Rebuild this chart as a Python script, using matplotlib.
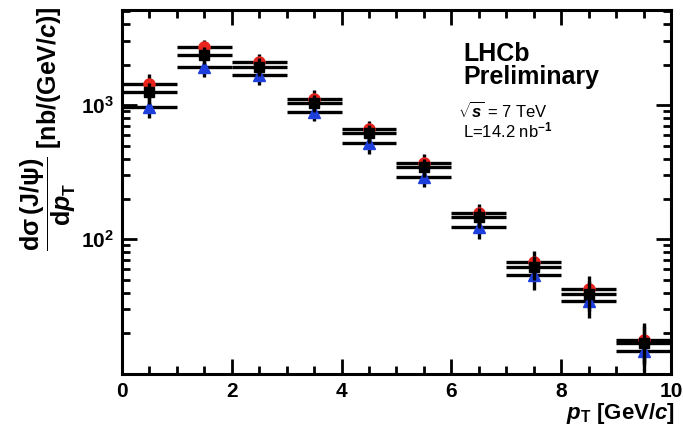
import numpy as np
import matplotlib
matplotlib.use('Agg')
import matplotlib.pyplot as plt
from matplotlib.ticker import FixedLocator, FuncFormatter, NullFormatter, MultipleLocator

plt.rcParams['font.family'] = ['Liberation Sans', 'DejaVu Sans']
plt.rcParams['font.weight'] = 'bold'
plt.rcParams['mathtext.fontset'] = 'custom'
plt.rcParams['mathtext.rm'] = 'Liberation Sans:bold'
plt.rcParams['mathtext.it'] = 'Liberation Sans:bold:italic'
plt.rcParams['mathtext.bf'] = 'Liberation Sans:bold'

# pT bins (GeV/c)
bin_centers = [0.5, 1.5, 2.5, 3.5, 4.5, 5.5, 6.5, 7.5, 8.5, 9.5]
bin_half_width = 0.5

# three measurements of dsigma/dpT [nb/(GeV/c)]
red_vals = [1433, 2717, 2100, 1118, 659, 372, 156, 68.1, 42.7, 17.8]
red_errs = [270, 330, 300, 175, 105, 59, 27, 14, 10.6, 5.9]

black_vals = [1243, 2355, 1935, 1035, 615, 344, 146, 62.5, 39.2, 17.0]
black_errs = [220, 340, 300, 150, 95, 52, 24, 13, 10, 5.5]

blue_vals = [971, 1928, 1665, 892, 524, 293, 124, 54.2, 34.7, 14.8]
blue_errs = [170, 320, 255, 128, 93, 46, 24, 12.3, 8.6, 4.6]

fig = plt.figure(figsize=(6.83, 4.41), dpi=100)
ax = fig.add_axes([0.1786, 0.153, 0.8038, 0.824])

common = dict(xerr=bin_half_width, ecolor='black', elinewidth=2.4, capsize=0, linestyle='none')
ax.errorbar(bin_centers, red_vals, yerr=red_errs, fmt='o', color='#e8251f', ms=8, zorder=3, **common)
ax.errorbar(bin_centers, blue_vals, yerr=blue_errs, fmt='^', color='#1f3fdc', ms=8, zorder=3, **common)
ax.errorbar(bin_centers, black_vals, yerr=black_errs, fmt='s', color='black', ms=6.5, zorder=4, **common)

ax.set_yscale('log')
ax.set_xlim(0, 10)
ax.set_ylim(10, 5100)

ax.xaxis.set_major_locator(MultipleLocator(2))
ax.xaxis.set_minor_locator(MultipleLocator(0.5))
ax.yaxis.set_major_locator(FixedLocator([100, 1000]))
minor_y = [m * 10 ** e for e in (1, 2, 3) for m in range(2, 10) if m * 10 ** e < 5100]
ax.yaxis.set_minor_locator(FixedLocator(minor_y))
ax.yaxis.set_major_formatter(FuncFormatter(lambda v, p: r'$\mathbf{10^{%d}}$' % round(np.log10(v))))
ax.yaxis.set_minor_formatter(NullFormatter())
ax.xaxis.set_major_formatter(FuncFormatter(lambda v, p: '%d' % v))

for s in ax.spines.values():
    s.set_linewidth(2.2)
ax.tick_params(which='both', direction='in', top=True, right=True, width=2.0)
ax.tick_params(which='major', length=11, labelsize=15, pad=6)
ax.tick_params(which='minor', length=6)
for lab in ax.get_xticklabels() + ax.get_yticklabels():
    lab.set_fontweight('bold')

# axis titles
fig.text(675 / 683, 1 - 413 / 441, r'$\mathit{p}_{\mathrm{T}}$ [GeV/$\mathit{c}$]',
         ha='right', va='center', fontsize=16, fontweight='bold')
fig.text(48 / 683, 1 - 6 / 441,
         r'$\dfrac{\mathrm{d\sigma\,(J/\psi)}}{\mathrm{d}\mathit{p}_{\mathrm{T}}}$ [nb/(GeV/$\mathit{c}$)]',
         rotation=90, ha='center', va='top', fontsize=18, fontweight='bold')

# annotations
ax.text(463 / 683, 1 - 54 / 441, 'LHCb', transform=fig.transFigure,
        fontsize=18, fontweight='bold', va='center', ha='left')
ax.text(463 / 683, 1 - 77 / 441, 'Preliminary', transform=fig.transFigure,
        fontsize=18, fontweight='bold', va='center', ha='left')
ax.text(458 / 683, 1 - 111 / 441, r'$\sqrt{\mathit{s}}$ = 7 TeV', transform=fig.transFigure,
        fontsize=12, fontweight='normal', va='center', ha='left')
ax.text(463 / 683, 1 - 130 / 441, r'L=14.2 nb$^{\mathrm{-1}}$', transform=fig.transFigure,
        fontsize=12, fontweight='normal', va='center', ha='left')

fig.savefig('out.png', dpi=100)
